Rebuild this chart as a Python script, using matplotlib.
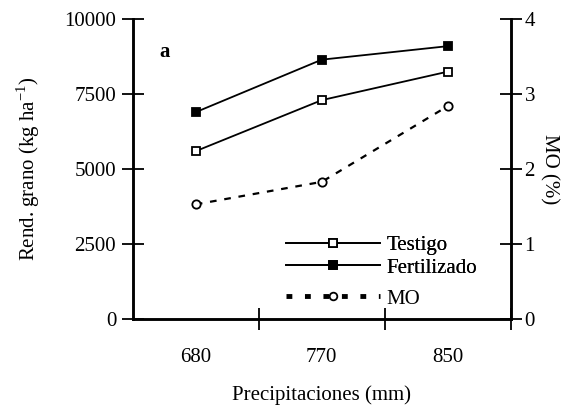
import numpy as np
import matplotlib
matplotlib.use('Agg')
import matplotlib.pyplot as plt
from matplotlib.lines import Line2D

# Data
categorias = ['680', '770', '850']
testigo = [5600, 7300, 8250]
fertilizado = [6900, 8650, 9100]
mo = [1.53, 1.83, 2.84]

plt.rcParams['font.family'] = ['Liberation Serif', 'DejaVu Serif']
plt.rcParams['font.size'] = 15

fig = plt.figure(figsize=(5.7, 4.08), dpi=100)
ax = fig.add_axes([0.233, 0.218, 0.663, 0.735])
ax2 = ax.twinx()

x = np.arange(1, len(categorias) + 1)

l1, = ax.plot(x, testigo, color='black', lw=1.3, marker='s', ms=6,
              mfc='white', mec='black', mew=1.3, label='Testigo')
l2, = ax.plot(x, fertilizado, color='black', lw=1.3, marker='s', ms=6,
              mfc='black', mec='black', mew=1.3, label='Fertilizado')
l3, = ax2.plot(x, mo, color='black', lw=1.6, ls=(0, (3, 3.5)), marker='o', ms=6,
               mfc='white', mec='black', mew=1.3, label='MO')

ax.set_xlim(0.5, 3.5)
ax.set_ylim(0, 10000)
ax2.set_ylim(0, 4)

ax.set_yticks([0, 2500, 5000, 7500, 10000])
ax2.set_yticks([0, 1, 2, 3, 4])

# ticks at category boundaries, labels at category centres
ax.set_xticks([1.5, 2.5, 3.5])
ax.set_xticklabels([])
ax.set_xticks(x, minor=True)
ax.set_xticklabels(categorias, minor=True)
ax.tick_params(axis='x', which='major', direction='inout', length=16, width=1.3)
ax.tick_params(axis='x', which='minor', length=0, pad=21)
ax.tick_params(axis='y', direction='inout', length=16, width=1.3, pad=4)
ax2.tick_params(axis='y', direction='inout', length=16, width=1.3, pad=2)

for a in (ax, ax2):
    a.spines['top'].set_visible(False)
    for s in ('left', 'right', 'bottom'):
        a.spines[s].set_linewidth(1.8)

ax.set_ylabel('Rend. grano (kg ha$^{\\mathregular{-1}}$)', labelpad=16)
ax2.set_ylabel('MO (%)', rotation=270, labelpad=17)
ax.set_xlabel('Precipitaciones (mm)', labelpad=13)

ax.text(0.71, 8900, 'a', fontweight='bold', fontsize=15, ha='left', va='center')

leg1 = ax.legend(handles=[l1, l2], loc='lower left', bbox_to_anchor=(0.384, 0.11),
                 frameon=False, handlelength=4.5, handletextpad=0.3,
                 labelspacing=0.15, borderaxespad=0.0)
ax.add_artist(leg1)
mo_proxy = Line2D([], [], color='black', lw=3.5, ls=(0, (1.2, 2.6)), marker='o',
                  ms=5.5, mfc='white', mec='black', mew=1.3)
ax2.legend(handles=[mo_proxy], labels=['MO'], loc='lower left',
           bbox_to_anchor=(0.384, 0.007), frameon=False, handlelength=4.5,
           handletextpad=0.3, borderaxespad=0.0)

fig.savefig('out.png', dpi=100)
